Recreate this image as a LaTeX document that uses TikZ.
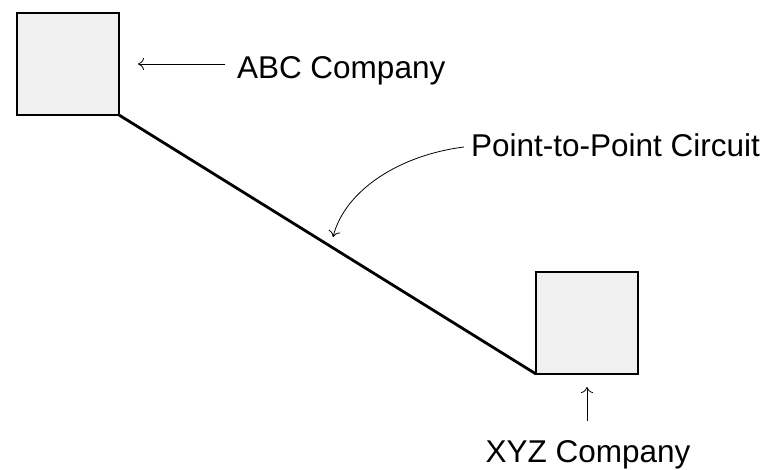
\documentclass[tikz,border=0pt]{standalone}
\usepackage{fontspec}
\setmainfont{Liberation Sans}
\usetikzlibrary{arrows.meta}
\begin{document}
\begin{tikzpicture}[x=1pt,y=-1pt,
  site/.style={draw, line width=2.8pt, fill=black!6, minimum width=102pt, minimum height=102pt, inner sep=0pt, outer sep=0pt},
  lbl/.style={font=\fontsize{31.5}{38}\selectfont, inner sep=0pt, outer sep=0pt},
  pointer/.style={line width=0.8pt, -{To[length=6pt,width=12pt]}},
  circuit/.style={line width=2.8pt}]
\useasboundingbox (0,0) rectangle (766,470);
\node[site] (abc) at (68,64) {};
\node[site] (xyz) at (587,323) {};
\draw[circuit] (abc.south east) -- (xyz.south west);
\node[lbl, anchor=base west] (abcl) at (237,79) {ABC Company};
\node[lbl, anchor=base west] (ptpl) at (471,157) {Point-to-Point Circuit};
\node[lbl, anchor=base] (xyzl) at (588,462) {XYZ Company};
\coordinate (abcs) at (225,64);
\coordinate (abct) at (138,64);
\draw[pointer] (abcs) -- (abct);
\coordinate (xyzs) at (587,421);
\coordinate (xyzt) at (587,387);
\draw[pointer] (xyzs) -- (xyzt);
\coordinate (ptps) at (464,147);
\coordinate (ptpt) at (333,237);
\draw[pointer] (ptps) .. controls (400,155) and (345,190) .. (ptpt);
\end{tikzpicture}
\end{document}
